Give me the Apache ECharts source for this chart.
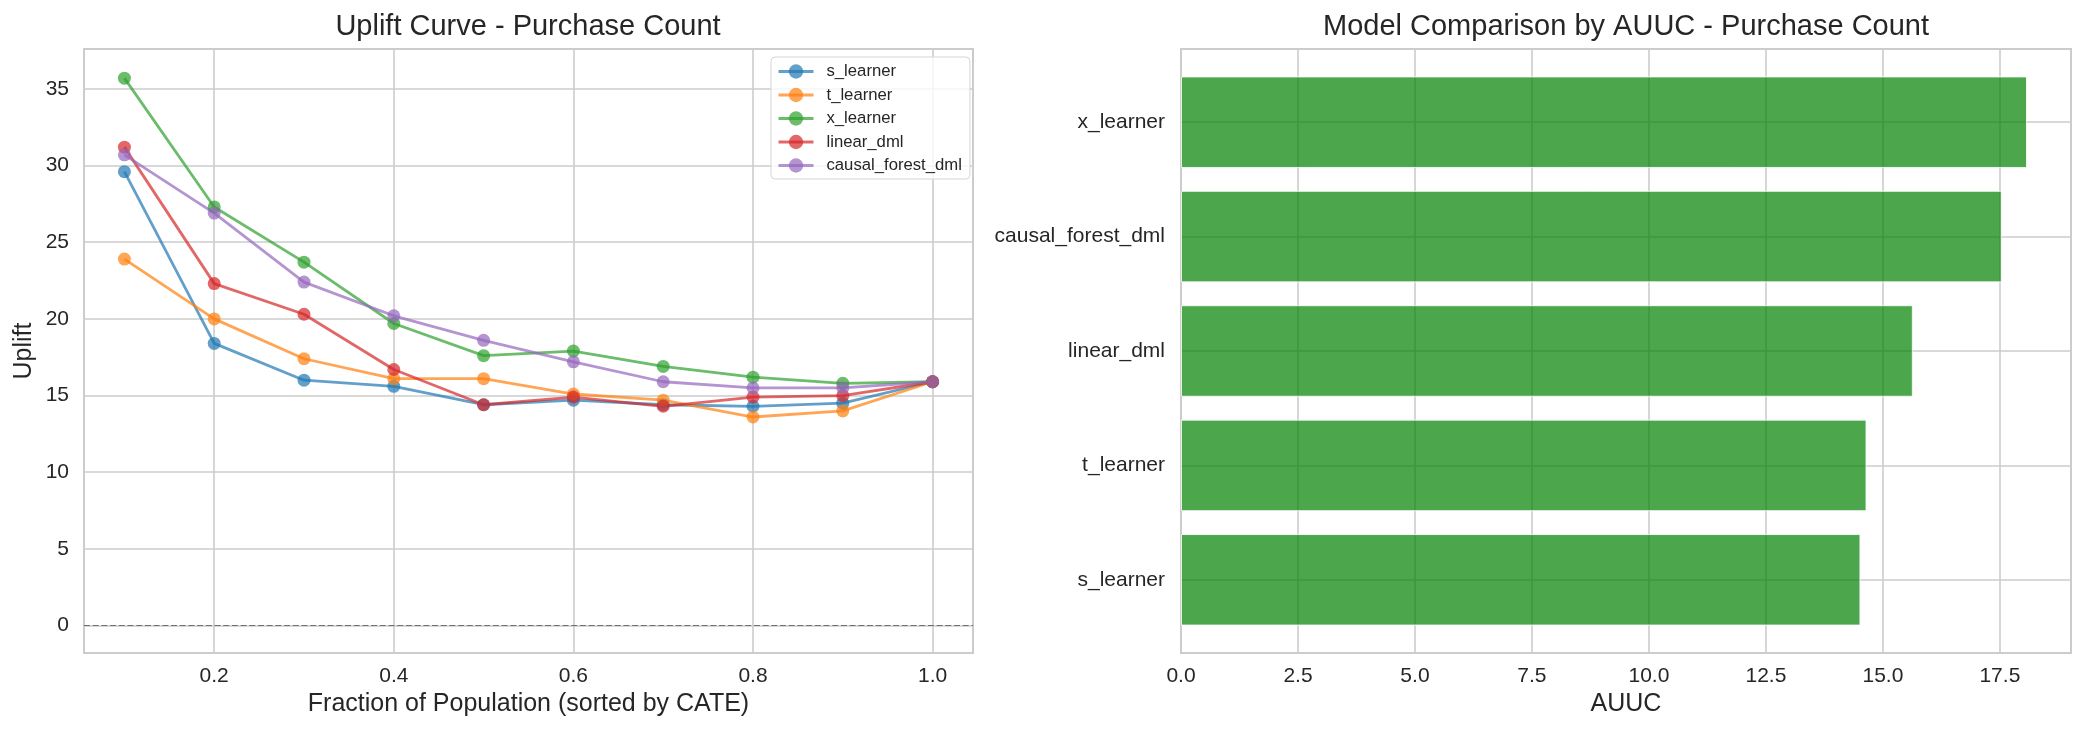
<!DOCTYPE html>
<html>
<head>
<meta charset="utf-8">
<title>Uplift - Purchase Count</title>
<script src="https://cdn.jsdelivr.net/npm/echarts@6/dist/echarts.min.js"></script>
<style>
    html, body { margin: 0; padding: 0; background: #fff; }
    #main { width: 2085px; height: 734px; }
</style>
</head>
<body>
<div id="main"></div>
<script>
// 数据
var fractions = [0.1, 0.2, 0.3, 0.4, 0.5, 0.6, 0.7, 0.8, 0.9, 1.0];
var sLearner = [29.6, 18.4, 16.0, 15.6, 14.4, 14.7, 14.4, 14.3, 14.5, 15.9];
var tLearner = [23.9, 20.0, 17.4, 16.1, 16.1, 15.1, 14.7, 13.6, 14.0, 15.9];
var xLearner = [35.7, 27.3, 23.7, 19.7, 17.6, 17.9, 16.9, 16.2, 15.8, 15.9];
var linearDml = [31.2, 22.3, 20.3, 16.7, 14.4, 14.9, 14.3, 14.9, 15.0, 15.9];
var causalForestDml = [30.7, 26.9, 22.4, 20.2, 18.6, 17.2, 15.9, 15.5, 15.5, 15.9];

var modelNames = ['s_learner', 't_learner', 'linear_dml', 'causal_forest_dml', 'x_learner'];
var auucValues = [14.52, 14.65, 15.64, 17.54, 18.08];

var FONT = "'Liberation Sans', Arial, sans-serif";
var TXT = '#262626';
var GRID = '#cccccc';

var chart = echarts.init(document.getElementById('main'));

function pairs(vals) {
    var out = [];
    for (var i = 0; i < vals.length; i++) {
        out.push([fractions[i], vals[i]]);
    }
    return out;
}

function lineSeries(name, vals, color) {
    return {
        name: name,
        type: 'line',
        xAxisIndex: 0,
        yAxisIndex: 0,
        data: pairs(vals),
        symbol: 'circle',
        symbolSize: 13,
        lineStyle: { color: color, width: 2.8, opacity: 0.7 },
        itemStyle: { color: color, opacity: 0.7 }
    };
}

var series = [
    lineSeries('s_learner', sLearner, '#1f77b4'),
    lineSeries('t_learner', tLearner, '#ff7f0e'),
    lineSeries('x_learner', xLearner, '#2ca02c'),
    lineSeries('linear_dml', linearDml, '#d62728'),
    lineSeries('causal_forest_dml', causalForestDml, '#9467bd')
];
// 0 参考线
series[0].markLine = {
    silent: true,
    symbol: 'none',
    label: { show: false },
    lineStyle: { color: '#707070', type: [6, 2.7], width: 1.2 },
    data: [{ yAxis: 0 }]
};
// AUUC 条形图
series.push({
    name: 'AUUC',
    type: 'bar',
    xAxisIndex: 2,
    yAxisIndex: 2,
    data: auucValues,
    barWidth: '80%',
    itemStyle: {
        color: 'rgba(0,128,0,0.7)',
        borderColor: 'rgba(255,255,255,0.8)',
        borderWidth: 1
    }
});

var option = {
    animation: false,
    backgroundColor: '#ffffff',
    textStyle: { fontFamily: FONT, color: TXT },
    title: [
        {
            text: 'Uplift Curve - Purchase Count',
            left: 528, top: 12, padding: 0, textAlign: 'center',
            textStyle: { fontFamily: FONT, fontSize: 29, fontWeight: 'normal', color: TXT }
        },
        {
            text: 'Model Comparison by AUUC - Purchase Count',
            left: 1626, top: 12, padding: 0, textAlign: 'center',
            textStyle: { fontFamily: FONT, fontSize: 29, fontWeight: 'normal', color: TXT }
        }
    ],
    legend: {
        data: ['s_learner', 't_learner', 'x_learner', 'linear_dml', 'causal_forest_dml'],
        orient: 'vertical',
        left: 771,
        top: 57,
        padding: [6, 8, 5, 6],
        itemWidth: 35,
        itemHeight: 18,
        itemGap: 6.5,
        lineStyle: { width: 3 },
        backgroundColor: 'rgba(255,255,255,0.8)',
        borderColor: '#d5d5d5',
        borderWidth: 1,
        borderRadius: 4,
        textStyle: { fontFamily: FONT, fontSize: 16.7, color: TXT, padding: [0, 0, 0, 8] }
    },
    grid: [
        { left: 84, right: 1112, top: 49, bottom: 81, show: true, borderColor: GRID, borderWidth: 2 },
        { left: 1181, right: 14, top: 49, bottom: 81, show: true, borderColor: GRID, borderWidth: 2 },
        { left: 1181, right: 14, top: 65, bottom: 97 }
    ],
    xAxis: [
        {
            type: 'value', gridIndex: 0, min: 0.055, max: 1.045, splitNumber: 5,
            name: 'Fraction of Population (sorted by CATE)', nameLocation: 'middle', nameGap: 39,
            nameTextStyle: { fontFamily: FONT, fontSize: 25, color: TXT },
            axisLine: { show: false }, axisTick: { show: false },
            axisLabel: {
                fontFamily: FONT, fontSize: 21, color: TXT, margin: 12.5,
                showMinLabel: false, showMaxLabel: false,
                formatter: function (v) { return v.toFixed(1); }
            },
            splitLine: { show: true, lineStyle: { color: GRID, width: 1.6 } }
        },
        {
            type: 'value', gridIndex: 1, min: 0, max: 19.02, interval: 2.5,
            name: 'AUUC', nameLocation: 'middle', nameGap: 39,
            nameTextStyle: { fontFamily: FONT, fontSize: 25, color: TXT },
            axisLine: { show: false }, axisTick: { show: false },
            axisLabel: {
                fontFamily: FONT, fontSize: 21, color: TXT, margin: 12.5,
                showMaxLabel: false,
                formatter: function (v) { return v.toFixed(1); }
            },
            splitLine: { show: true, lineStyle: { color: GRID, width: 1.6 } }
        },
        {
            type: 'value', gridIndex: 2, min: 0, max: 19.02, show: false
        }
    ],
    yAxis: [
        {
            type: 'value', gridIndex: 0, min: -1.79, max: 37.6, splitNumber: 8,
            name: 'Uplift', nameLocation: 'middle', nameGap: 47,
            nameTextStyle: { fontFamily: FONT, fontSize: 25, color: TXT },
            axisLine: { show: false }, axisTick: { show: false },
            axisLabel: {
                fontFamily: FONT, fontSize: 21, color: TXT, margin: 15,
                showMinLabel: false, showMaxLabel: false
            },
            splitLine: { show: true, lineStyle: { color: GRID, width: 1.6 } }
        },
        {
            type: 'value', gridIndex: 1, min: -0.64, max: 4.64, splitNumber: 5,
            axisLine: { show: false }, axisTick: { show: false },
            axisLabel: { show: false },
            splitLine: { show: true, lineStyle: { color: GRID, width: 1.6 } }
        },
        {
            type: 'category', gridIndex: 2, data: modelNames,
            axisLine: { show: false }, axisTick: { show: false },
            splitLine: { show: false },
            axisLabel: { fontFamily: FONT, fontSize: 21, color: TXT, margin: 16 }
        }
    ],
    series: series
};

chart.setOption(option);

window.onresize = function () {
    chart.resize();
};
</script>
</body>
</html>
